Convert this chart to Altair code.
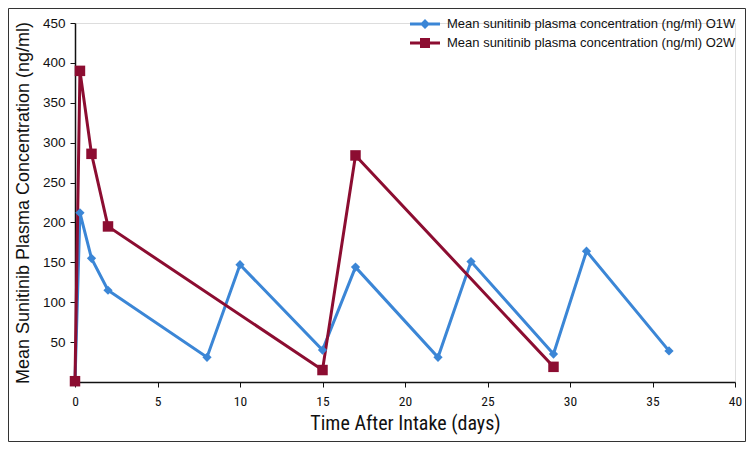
import altair as alt
import pandas as pd

S1 = "Mean sunitinib plasma concentration (ng/ml) O1W"
S2 = "Mean sunitinib plasma concentration (ng/ml) O2W"

o1w_days = [0, 0.3, 1, 2, 8, 10, 15, 17, 22, 24, 29, 31, 36]
o1w_conc = [0, 212, 155, 115, 31, 147, 40, 144, 31, 151, 35, 164, 39]
o2w_days = [0, 0.3, 1, 2, 15, 17, 29]
o2w_conc = [1, 390, 286, 195, 15, 284, 19]

x_ticks = [0, 5, 10, 15, 20, 25, 30, 35, 40]
y_ticks = [50, 100, 150, 200, 250, 300, 350, 400, 450]

BLUE = "#3b86d6"
RED = "#8c0d31"

df = pd.DataFrame(
    {
        "day": o1w_days + o2w_days,
        "conc": o1w_conc + o2w_conc,
        "series": [S1] * len(o1w_days) + [S2] * len(o2w_days),
    }
)

NARROW = "Liberation Sans Narrow, Roboto Condensed, Roboto, sans-serif"
REG = "Liberation Sans, Arial, sans-serif"

p1 = "M-1.5,-0.15H1.5V0.15H-1.5Z M0,-0.5L0.5,0L0,0.5L-0.5,0Z"
p2 = "M-1.5,-0.15H1.5V0.15H-1.5Z M-0.5,-0.5H0.5V0.5H-0.5Z"

x_enc = alt.X(
    "day:Q",
    scale=alt.Scale(domain=[0, 40], nice=False, zero=False),
    axis=alt.Axis(
        values=x_ticks,
        title="Time After Intake (days)",
        grid=False,
        labelFlush=False,
        labelFont=NARROW,
        labelFontSize=13.5,
        labelColor="#111",
        labelPadding=7,
        tickSize=5,
        tickColor="#111",
        domainColor="#111",
        domainWidth=1.5,
        titleFont=NARROW,
        titleFontSize=20,
        titleFontWeight="normal",
        titleColor="#111",
        titlePadding=6,
    ),
)
y_enc = alt.Y(
    "conc:Q",
    scale=alt.Scale(domain=[0, 450], nice=False),
    axis=alt.Axis(
        values=y_ticks,
        title="Mean Sunitinib Plasma Concentration (ng/ml)",
        grid=False,
        labelFlush=False,
        labelFont=REG,
        labelFontSize=13.5,
        labelColor="#111",
        labelPadding=5,
        tickSize=5,
        tickColor="#111",
        domainColor="#111",
        domainWidth=1.5,
        titleFont=REG,
        titleFontSize=18,
        titleFontWeight="normal",
        titleColor="#111",
        titlePadding=10,
    ),
)


def cscale():
    return alt.Scale(domain=[S1, S2], range=[BLUE, RED])


legend = alt.Legend(
    title=None,
    orient="none",
    legendX=340,
    legendY=-9,
    padding=0,
    symbolSize=400,
    symbolStrokeWidth=0,
    symbolOpacity=1,
    labelFont=REG,
    labelFontSize=13,
    labelColor="#111",
    labelOffset=12,
    labelLimit=400,
)

lines = alt.Chart(df).mark_line(strokeWidth=3).encode(
    x=x_enc,
    y=y_enc,
    color=alt.Color("series:N", scale=cscale(), legend=None),
    detail="series:N",
)

pts = alt.Chart(df).mark_point(filled=True, opacity=1).encode(
    x=x_enc,
    y=y_enc,
    color=alt.Color("series:N", scale=cscale(), legend=None),
    shape=alt.Shape("series:N", scale=alt.Scale(domain=[S1, S2], range=["diamond", "square"]), legend=None),
    size=alt.Size("series:N", scale=alt.Scale(domain=[S1, S2], range=[85, 110]), legend=None),
)

leg = alt.Chart(df).transform_filter("false").mark_point(filled=True, opacity=1, size=400).encode(
    x=x_enc,
    y=y_enc,
    color=alt.Color("series:N", scale=cscale(), legend=legend),
    shape=alt.Shape("series:N", scale=alt.Scale(domain=[S1, S2], range=[p1, p2]), legend=legend),
)

frame = alt.Chart(pd.DataFrame({"a": [0]})).mark_rect(
    fillOpacity=0, stroke="#333", strokeWidth=1
).encode(
    x=alt.value(-66.5), x2=alt.value(670.5), y=alt.value(-14.5), y2=alt.value(418.5)
)

chart = (
    alt.layer(lines, pts, leg, frame)
    .resolve_scale(shape="independent", size="independent", color="independent")
    .properties(
        width=660,
        height=359,
        autosize=alt.AutoSizeParams(type="none"),
        padding={"left": 67, "top": 15, "right": 11, "bottom": 60},
    )
    .configure_view(stroke=None)
    .configure_legend(rowPadding=0)
    .configure(background="white")
)

chart.save("out.html", embed_options={"renderer": "svg", "actions": False})
